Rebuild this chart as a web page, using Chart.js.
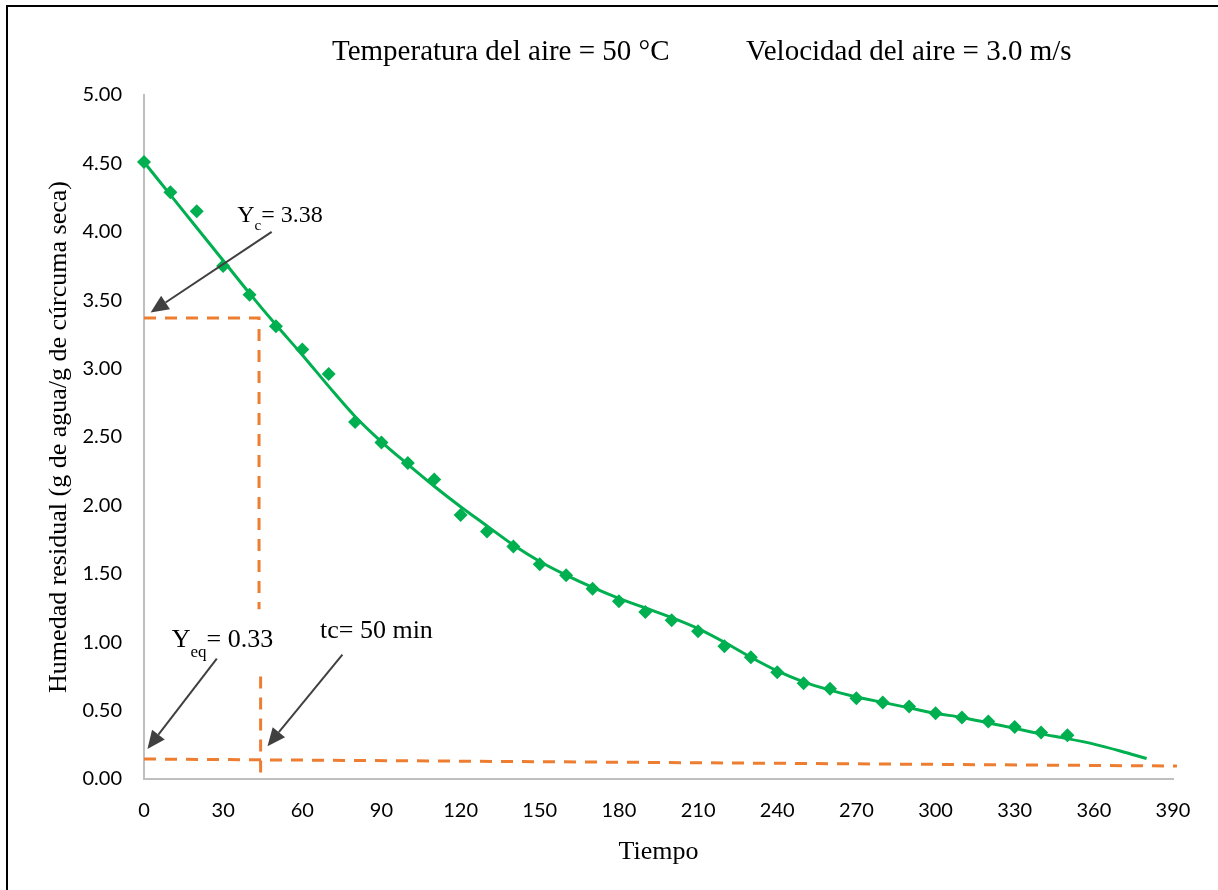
<!DOCTYPE html>
<html>
<head>
<meta charset="utf-8">
<script src="https://cdn.jsdelivr.net/npm/chart.js@4.4.1/dist/chart.umd.min.js"></script>
<style>
  html, body { margin: 0; padding: 0; background: #fff; }
  #wrap { width: 1218px; height: 890px; position: relative; }
</style>
</head>
<body>
<div id="wrap"><canvas id="curva"></canvas></div>
<script>
/* ── Datos experimentales ─────────────────────────────── */
const tiempo  = [0, 10, 20, 30, 40, 50, 60, 70, 80, 90, 100, 110, 120, 130, 140, 150, 160, 170,
                 180, 190, 200, 210, 220, 230, 240, 250, 260, 270, 280, 290, 300, 310, 320, 330, 340, 350];
const humedad = [4.51, 4.29, 4.15, 3.75, 3.54, 3.31, 3.14, 2.96, 2.61, 2.46, 2.31, 2.19, 1.93, 1.81, 1.70, 1.57, 1.49, 1.39,
                 1.30, 1.22, 1.16, 1.08, 0.97, 0.89, 0.78, 0.70, 0.66, 0.59, 0.56, 0.53, 0.48, 0.45, 0.42, 0.38, 0.34, 0.32];

/* ── Línea de tendencia ───────────────────────────────── */
const tendT = [0, 10, 20, 30, 40, 50, 60, 70, 80, 90, 100, 110, 120, 130, 140, 150, 160, 170, 180, 190,
               200, 210, 220, 230, 240, 250, 260, 270, 280, 290, 300, 310, 320, 330, 340, 350, 360, 370, 380];
const tendH = [4.51, 4.27, 4.03, 3.79, 3.55, 3.32, 3.10, 2.87, 2.65, 2.465, 2.30, 2.14, 1.99, 1.85, 1.71, 1.59, 1.49, 1.40, 1.32, 1.25,
               1.18, 1.10, 1.00, 0.89, 0.79, 0.71, 0.65, 0.60, 0.56, 0.52, 0.48, 0.45, 0.41, 0.37, 0.33, 0.295, 0.255, 0.205, 0.15];

/* ── Líneas punteadas (Yc, tc, Yeq) ───────────────────── */
const ycT  = [0, 43.6, 43.6];
const ycH  = [3.37, 3.37, 1.24];
const tcT  = [44.2, 44.2];
const tcH  = [0.75, 0.045];
const yeqT = [0, 391.5];
const yeqH = [0.146, 0.095];

/* ── Ejes ─────────────────────────────────────────────── */
const xTicks = [0, 30, 60, 90, 120, 150, 180, 210, 240, 270, 300, 330, 360, 390];
const yTicks = [0, 0.5, 1, 1.5, 2, 2.5, 3, 3.5, 4, 4.5, 5];

const titulo1 = 'Temperatura del aire = 50 °C';
const titulo2 = 'Velocidad del aire = 3.0 m/s';
const ejeX    = 'Tiempo';
const ejeY    = 'Humedad residual (g de agua/g de cúrcuma seca)';

/* anotaciones en unidades de datos */
const notas = [
  { base: 'Y', sub: 'c',  resto: '= 3.38', size: 24, subSize: 15, subDy: 8,  t: 35.3, h: 4.07,  desde: [48.4, 4.00], hasta: [2.5, 3.41] },
  { base: 'Y', sub: 'eq', resto: '= 0.33', size: 26, subSize: 17, subDy: 10, t: 10.5, h: 0.967, desde: [27.6, 0.88], hasta: [1.3, 0.22] },
  { base: 'tc= 50 min', sub: '', resto: '', size: 26, subSize: 0, subDy: 0, t: 66.7, h: 1.03,  desde: [75.2, 0.91], hasta: [46.8, 0.24] },
];

const pts = (xs, ys) => xs.map((x, i) => ({ x, y: ys[i] }));

const SERIF  = '"Liberation Serif", "Times New Roman", serif';
const GREEN  = '#00B050';
const ORANGE = '#ED7D31';

const textos = {
  id: 'textos',
  afterDatasetsDraw(chart) {
    const { ctx, scales: { x, y } } = chart;
    ctx.save();

    // flechas
    ctx.strokeStyle = '#404040';
    ctx.fillStyle   = '#404040';
    ctx.lineWidth   = 2;
    notas.forEach(n => {
      const x1 = x.getPixelForValue(n.desde[0]), y1 = y.getPixelForValue(n.desde[1]);
      const x2 = x.getPixelForValue(n.hasta[0]), y2 = y.getPixelForValue(n.hasta[1]);
      const ang = Math.atan2(y2 - y1, x2 - x1);
      const len = 18, half = 8;
      const bx = x2 - len * Math.cos(ang), by = y2 - len * Math.sin(ang);
      ctx.beginPath();
      ctx.moveTo(x1, y1);
      ctx.lineTo(bx, by);
      ctx.stroke();
      ctx.beginPath();
      ctx.moveTo(x2, y2);
      ctx.lineTo(bx + half * Math.sin(ang), by - half * Math.cos(ang));
      ctx.lineTo(bx - half * Math.sin(ang), by + half * Math.cos(ang));
      ctx.closePath();
      ctx.fill();
    });

    // etiquetas de las anotaciones
    ctx.fillStyle = '#000';
    ctx.textBaseline = 'alphabetic';
    ctx.textAlign = 'left';
    notas.forEach(n => {
      let px = x.getPixelForValue(n.t);
      const py = y.getPixelForValue(n.h);
      ctx.font = `${n.size}px ${SERIF}`;
      ctx.fillText(n.base, px, py);
      px += ctx.measureText(n.base).width;
      if (n.sub) {
        ctx.font = `${n.subSize}px ${SERIF}`;
        ctx.fillText(n.sub, px, py + n.subDy);
        px += ctx.measureText(n.sub).width;
        ctx.font = `${n.size}px ${SERIF}`;
        ctx.fillText(n.resto, px, py);
      }
    });

    // título
    ctx.font = `29px ${SERIF}`;
    ctx.fillText(titulo1, 332, 60);
    ctx.fillText(titulo2, 746, 60);

    // títulos de ejes
    ctx.font = `26px ${SERIF}`;
    ctx.textAlign = 'center';
    ctx.fillText(ejeX, (x.left + x.right) / 2, 859);
    ctx.translate(66, (y.top + y.bottom) / 2);
    ctx.rotate(-Math.PI / 2);
    ctx.fillText(ejeY, 0, 0);
    ctx.restore();

    // marco
    ctx.save();
    ctx.strokeStyle = '#000';
    ctx.lineWidth = 2;
    ctx.beginPath();
    ctx.moveTo(7, 890);
    ctx.lineTo(7, 6);
    ctx.lineTo(1218, 6);
    ctx.stroke();
    ctx.restore();
  }
};

new Chart(document.getElementById('curva'), {
  type: 'line',
  data: {
    datasets: [
      {
        label: 'Yc',
        data: pts(ycT, ycH),
        borderColor: ORANGE, borderWidth: 3, borderDash: [12, 9],
        pointRadius: 0, fill: false, tension: 0,
      },
      {
        label: 'tc',
        data: pts(tcT, tcH),
        borderColor: ORANGE, borderWidth: 3, borderDash: [12, 9],
        pointRadius: 0, fill: false, tension: 0,
      },
      {
        label: 'Yeq',
        data: pts(yeqT, yeqH),
        borderColor: ORANGE, borderWidth: 3, borderDash: [12, 9],
        pointRadius: 0, fill: false, tension: 0, clip: 8,
      },
      {
        label: 'Tendencia',
        data: pts(tendT, tendH),
        borderColor: GREEN, borderWidth: 3,
        pointRadius: 0, fill: false, cubicInterpolationMode: 'monotone',
      },
      {
        label: 'Humedad',
        data: pts(tiempo, humedad),
        showLine: false,
        pointStyle: 'rectRot', pointRadius: 7,
        pointBackgroundColor: GREEN, pointBorderColor: GREEN, pointBorderWidth: 0,
        clip: 8,
      },
    ]
  },
  options: {
    responsive: true,
    maintainAspectRatio: false,
    animation: false,
    events: [],
    layout: { padding: { left: 0, top: 95, right: 45, bottom: 0 } },
    plugins: {
      legend: { display: false },
      tooltip: { enabled: false },
    },
    scales: {
      x: {
        type: 'linear', min: 0, max: 390,
        afterBuildTicks: s => { s.ticks = xTicks.map(v => ({ value: v })); },
        afterFit: s => { s.height = 111; },
        grid: { display: false, drawTicks: false },
        border: { color: '#BFBFBF', width: 2 },
        ticks: { padding: 20, color: '#000', font: { size: 20, family: 'Lato' }, maxRotation: 0 },
      },
      y: {
        type: 'linear', min: 0, max: 5,
        afterBuildTicks: s => { s.ticks = yTicks.map(v => ({ value: v })); },
        afterFit: s => { s.width = 144; },
        grid: { display: false, drawTicks: false },
        border: { color: '#BFBFBF', width: 2 },
        ticks: { padding: 22, color: '#000', font: { size: 20, family: 'Lato' }, callback: v => v.toFixed(2) },
      }
    }
  },
  plugins: [textos]
});
</script>
</body>
</html>
